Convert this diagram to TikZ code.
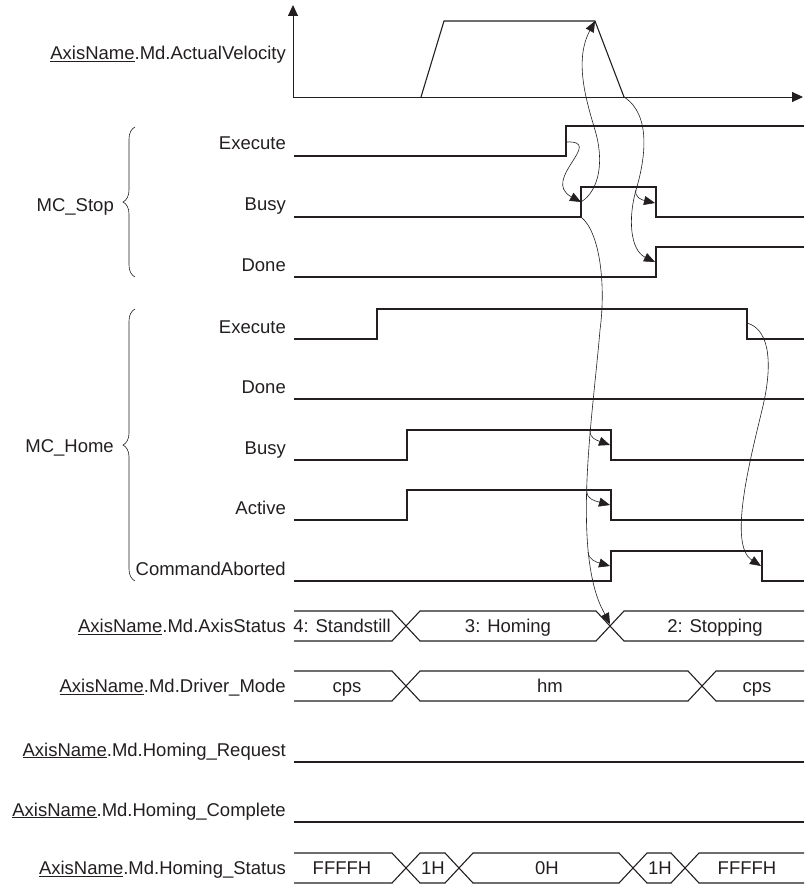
\documentclass[tikz,border=0pt]{standalone}
\usepackage{fontspec}
\setmainfont{Liberation Sans}
\usetikzlibrary{arrows.meta,decorations.pathreplacing}
\definecolor{InkGray}{RGB}{35,31,32}
\tikzset{
  sig/.style={draw=InkGray,line width=1.1pt},
  axis/.style={draw=InkGray,line width=0.9pt,-{Triangle[length=11pt,width=10pt]}},
  cause/.style={draw=InkGray,line width=0.6pt,-{Triangle[length=11pt,width=9pt]}},
  grp/.style={draw=InkGray,line width=0.6pt,decorate,decoration={brace,amplitude=12pt}},
  lbl/.style={anchor=base east,inner sep=0pt,text=InkGray,font=\fontsize{18.5}{22}\selectfont},
  val/.style={anchor=base,inner sep=0pt,text=InkGray,font=\fontsize{18.5}{22}\selectfont},
}

\begin{document}
\begin{tikzpicture}[x=1pt,y=-1pt]
\useasboundingbox (0,0) rectangle (804,885);
% velocity
\coordinate (o) at (293,97);
\coordinate (vtop) at (293,5);
\coordinate (vright) at (803,97);
\coordinate (velPeak) at (595,21);
\coordinate (velEnd) at (624,97);
\draw[axis] (o) -- (vtop);
\draw[axis] (o) -- (vright);
\draw[sig] (421,97) -- (444,21) -- (velPeak) -- (velEnd);
% MC_Stop
\draw[sig] (294,156) -- (566,156) -- (566,126) -- (804,126);
\draw[sig] (294,217) -- (581,217) -- (581,187) -- (656,187) -- (656,217) -- (804,217);
\draw[sig] (294,277) -- (656,277) -- (656,247) -- (804,247);
% MC_Home
\draw[sig] (294,339) -- (377,339) -- (377,309) -- (747,309) -- (747,339) -- (804,339);
\draw[sig] (294,399) -- (804,399);
\draw[sig] (294,460) -- (407,460) -- (407,430) -- (611,430) -- (611,460) -- (804,460);
\draw[sig] (294,520) -- (407,520) -- (407,490) -- (611,490) -- (611,520) -- (804,520);
\draw[sig] (294,581) -- (611,581) -- (611,551) -- (762,551) -- (762,581) -- (804,581);
% buses
\draw[sig] (294,611) -- (392,611) -- (420,641) -- (596,641) -- (624,611) -- (804,611);
\draw[sig] (294,641) -- (392,641) -- (420,611) -- (596,611) -- (624,641) -- (804,641);
\draw[sig] (294,671) -- (392,671) -- (420,701) -- (688,701) -- (716,671) -- (804,671);
\draw[sig] (294,701) -- (392,701) -- (420,671) -- (688,671) -- (716,701) -- (804,701);
\draw[sig] (294,762) -- (804,762);
\draw[sig] (294,822) -- (804,822);
\draw[sig] (294,853) -- (392,853) -- (420,883) -- (445,883) -- (473,853) -- (619,853) -- (647,883) -- (671,883) -- (699,853) -- (804,853);
\draw[sig] (294,883) -- (392,883) -- (420,853) -- (445,853) -- (473,883) -- (619,883) -- (647,853) -- (671,853) -- (699,883) -- (804,883);
% edges
\coordinate (sExeUp) at (566,142);
\coordinate (sBusyUp) at (581,202);
\coordinate (sBusyFoot) at (581,217);
\coordinate (sBusyDn) at (655,203);
\coordinate (sDoneUp) at (655,262);
\coordinate (hExeDn) at (747,323);
\coordinate (hBusyDn) at (610,445);
\coordinate (hActDn) at (610,505);
\coordinate (hAbtUp) at (610,566);
\coordinate (hAbtDn) at (761,566);
\coordinate (stsX) at (610,624);
\coordinate (vb) at (636,190);
\coordinate (hb0) at (600,330);
\coordinate (hb1) at (590,431);
\coordinate (hb2) at (587,492);
\coordinate (hb3) at (588,552);
% causes
\draw[cause] (sExeUp) .. controls (606,140) and (540,180) .. (sBusyUp);
\draw[cause] (sBusyUp) .. controls (600,190) and (604,160) .. (595,130) .. controls (586,100) and (574,60) .. (velPeak);
\draw[cause] (velEnd) .. controls (652,115) and (645,160) .. (vb) .. controls (628,218) and (630,250) .. (sDoneUp);
\draw[cause] (vb) .. controls (634,197) and (642,200) .. (sBusyDn);
\draw[cause] (sBusyFoot) .. controls (600,232) and (606,285) .. (hb0) .. controls (594,400) and (582,480) .. (588,550) .. controls (592,590) and (600,605) .. (stsX);
\draw[cause] (hb1) .. controls (590,438) and (596,440) .. (hBusyDn);
\draw[cause] (hb2) .. controls (587,499) and (595,501) .. (hActDn);
\draw[cause] (hb3) .. controls (589,560) and (596,562) .. (hAbtUp);
\draw[cause] (hExeDn) .. controls (772,330) and (772,370) .. (762,410) .. controls (750,460) and (728,545) .. (hAbtDn);
% groups
\draw[grp] (135,277) -- (135,127);
\draw[grp] (135,581) -- (135,309);
\node[lbl] (stopName) at (114,211.5) {MC\_Stop};
\node[lbl] (homeName) at (114,452) {MC\_Home};
% labels
\node[lbl] (velName) at (286,59.5) {\underline{AxisName}.Md.ActualVelocity};
\node[lbl] (sExe) at (286,150) {Execute};
\node[lbl] (sBusy) at (286,211) {Busy};
\node[lbl] (sDone) at (286,271) {Done};
\node[lbl] (hExe) at (286,333) {Execute};
\node[lbl] (hDone) at (286,393) {Done};
\node[lbl] (hBusy) at (286,454) {Busy};
\node[lbl] (hAct) at (286,514) {Active};
\node[lbl] (hAbt) at (286,575) {CommandAborted};
\node[lbl] (stsName) at (286,632.5) {\underline{AxisName}.Md.AxisStatus};
\node[lbl] (drvName) at (286,692.5) {\underline{AxisName}.Md.Driver\_Mode};
\node[lbl] (reqName) at (286,756) {\underline{AxisName}.Md.Homing\_Request};
\node[lbl] (cmpName) at (286,816) {\underline{AxisName}.Md.Homing\_Complete};
\node[lbl] (hstName) at (286,874.5) {\underline{AxisName}.Md.Homing\_Status};
% values
\node[val] (sts1) at (342,632.5) {4: Standstill};
\node[val] (sts2) at (508,632.5) {3: Homing};
\node[val] (sts3) at (715,632.5) {2: Stopping};
\node[val] (drv1) at (347,692.5) {cps};
\node[val] (drv2) at (550,692.5) {hm};
\node[val] (drv3) at (757,692.5) {cps};
\node[val] (hst1) at (342,874.5) {FFFFH};
\node[val] (hst2) at (433,874.5) {1H};
\node[val] (hst3) at (547,874.5) {0H};
\node[val] (hst4) at (660,874.5) {1H};
\node[val] (hst5) at (747,874.5) {FFFFH};
\end{tikzpicture}
\end{document}
